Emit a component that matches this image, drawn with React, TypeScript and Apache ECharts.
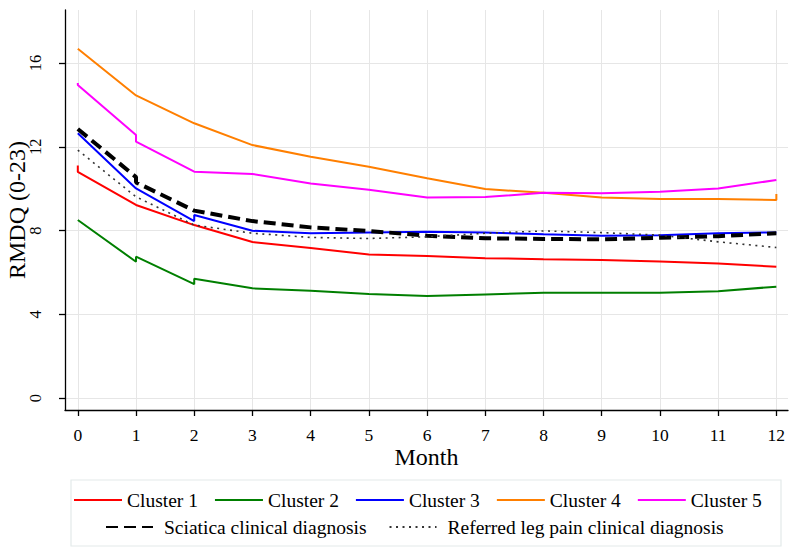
import React, { useEffect, useRef } from "react";
import * as echarts from "echarts";

const monthTicks = [0, 1, 2, 3, 4, 5, 6, 7, 8, 9, 10, 11, 12];
const rmdqTicks = [0, 4, 8, 12, 16];

const seriesNames = [
  "Cluster 1",
  "Cluster 2",
  "Cluster 3",
  "Cluster 4",
  "Cluster 5",
  "Sciatica clinical diagnosis",
  "Referred leg pain clinical diagnosis",
];

const cluster1: [number, number][] = [
  [0, 11.1], [0, 10.8], [1, 9.22], [2, 8.26], [3, 7.45], [4, 7.16], [5, 6.86],
  [6, 6.78], [7, 6.68], [8, 6.63], [9, 6.59], [10, 6.52], [11, 6.43], [12, 6.27],
];
const cluster2: [number, number][] = [
  [0, 8.5], [1, 6.51], [1, 6.75], [2, 5.44], [2, 5.7], [3, 5.24], [4, 5.12], [5, 4.97],
  [6, 4.87], [7, 4.95], [8, 5.03], [9, 5.03], [10, 5.03], [11, 5.1], [12, 5.32],
];
const cluster3: [number, number][] = [
  [0, 12.64], [1, 10.01], [2, 8.45], [2, 8.74], [3, 7.99], [4, 7.87], [5, 7.91],
  [6, 7.94], [7, 7.91], [8, 7.82], [9, 7.75], [10, 7.78], [11, 7.87], [12, 7.91],
];
const cluster4: [number, number][] = [
  [0, 16.68], [1, 14.45], [2, 13.12], [3, 12.08], [4, 11.52], [5, 11.05], [6, 10.5],
  [7, 9.98], [8, 9.8], [9, 9.58], [10, 9.5], [11, 9.5], [12, 9.46], [12, 9.74],
];
const cluster5: [number, number][] = [
  [0, 15.05], [0, 14.95], [1, 12.56], [1, 12.24], [2, 10.81], [3, 10.7], [4, 10.25],
  [5, 9.95], [6, 9.58], [7, 9.6], [8, 9.8], [9, 9.78], [10, 9.85], [11, 10.01], [12, 10.41],
];
const sciatica: [number, number][] = [
  [0, 12.85], [1, 10.55], [1, 10.3], [2, 8.95], [3, 8.45], [4, 8.15], [5, 7.98],
  [6, 7.75], [7, 7.63], [8, 7.6], [9, 7.58], [10, 7.65], [11, 7.73], [12, 7.87],
];
const referred: [number, number][] = [
  [0, 11.84], [1, 9.61], [2, 8.26], [3, 7.87], [4, 7.67], [5, 7.62], [6, 7.7],
  [7, 7.87], [8, 7.98], [9, 7.9], [10, 7.78], [11, 7.46], [12, 7.19],
];

const FONT = "Liberation Serif";

export default function App() {
  const ref = useRef<HTMLDivElement>(null);
  useEffect(() => {
    if (!ref.current) return;
    const chart = echarts.init(ref.current, undefined, { renderer: "svg" });
    const solid = (name: string, data: [number, number][], color: string) => ({
      name,
      type: "line",
      data,
      color,
      symbol: "none",
      showSymbol: false,
      lineStyle: { color, width: 2 },
      z: 3,
    });
    const legendText = { fontFamily: FONT, fontSize: 19.5, color: "#000" };
    chart.setOption({
      animation: false,
      backgroundColor: "#fff",
      textStyle: { fontFamily: FONT },
      grid: {
        left: 65,
        right: 12,
        top: 10,
        bottom: 147,
        containLabel: false,
        outerBoundsMode: "none",
      },
      xAxis: {
        type: "value",
        min: -0.22,
        max: 12.2,
        minInterval: 1,
        maxInterval: 1,
        splitNumber: 12,
        name: "Month",
        nameLocation: "middle",
        nameGap: 35,
        nameMoveOverlap: false,
        nameTextStyle: { fontFamily: FONT, fontSize: 24, color: "#000" },
        axisLine: { show: true, onZero: false, lineStyle: { color: "#000", width: 1.3 } },
        axisTick: { show: true, length: 6, customValues: monthTicks, lineStyle: { color: "#000", width: 1.3 } },
        axisLabel: { customValues: monthTicks, fontFamily: FONT, fontSize: 17.5, color: "#000", margin: 16 },
        splitLine: { show: true, lineStyle: { color: "#e6e6e6", width: 1 } },
      },
      yAxis: {
        type: "value",
        min: -0.57,
        max: 18.53,
        minInterval: 4,
        maxInterval: 4,
        name: "RMDQ (0-23)",
        nameLocation: "middle",
        nameGap: 36,
        nameRotate: 90,
        nameMoveOverlap: false,
        nameTextStyle: { fontFamily: FONT, fontSize: 24, color: "#000" },
        axisLine: { show: true, onZero: false, lineStyle: { color: "#000", width: 1.3 } },
        axisTick: { show: true, length: 6, customValues: rmdqTicks, lineStyle: { color: "#000", width: 1.3 } },
        axisLabel: { customValues: rmdqTicks, rotate: 90, fontFamily: FONT, fontSize: 16.5, color: "#000", margin: 21 },
        splitLine: { show: true, lineStyle: { color: "#e6e6e6", width: 1 } },
      },
      legend: [
        {
          data: seriesNames.slice(0, 5),
          left: 73,
          top: 490,
          padding: 0,
          itemWidth: 48,
          itemHeight: 14,
          itemGap: 16,
          itemStyle: { opacity: 0 },
          textStyle: legendText,
        },
        {
          data: seriesNames.slice(5),
          left: 105,
          top: 517,
          padding: 0,
          itemWidth: 47,
          itemHeight: 14,
          itemGap: 22,
          itemStyle: { opacity: 0 },
          textStyle: { ...legendText, padding: [0, 0, 0, 6] },
        },
      ],
      graphic: [
        {
          type: "rect",
          shape: { x: 71, y: 480, width: 710, height: 66 },
          style: { fill: "none", stroke: "#e3eaea", lineWidth: 1.2 },
          silent: true,
        },
      ],
      series: [
        solid(seriesNames[0], cluster1, "#ff0000"),
        solid(seriesNames[1], cluster2, "#007f00"),
        solid(seriesNames[2], cluster3, "#0000ff"),
        solid(seriesNames[3], cluster4, "#ff7f00"),
        solid(seriesNames[4], cluster5, "#ff00ff"),
        {
          name: seriesNames[5],
          type: "line",
          data: sciatica,
          color: "#000",
          symbol: "none",
          showSymbol: false,
          lineStyle: { color: "#000", width: 4, type: [12, 6] },
          z: 4,
        },
        {
          name: seriesNames[6],
          type: "line",
          data: referred,
          color: "#333",
          symbol: "none",
          showSymbol: false,
          lineStyle: { color: "#333", width: 1.6, type: [2, 4.5] },
          z: 4,
        },
      ],
    });
    return () => chart.dispose();
  }, []);
  return (
    <div
      ref={ref}
      style={{ position: "fixed", left: 0, top: 0, width: 800, height: 557, background: "#fff" }}
    />
  );
}
